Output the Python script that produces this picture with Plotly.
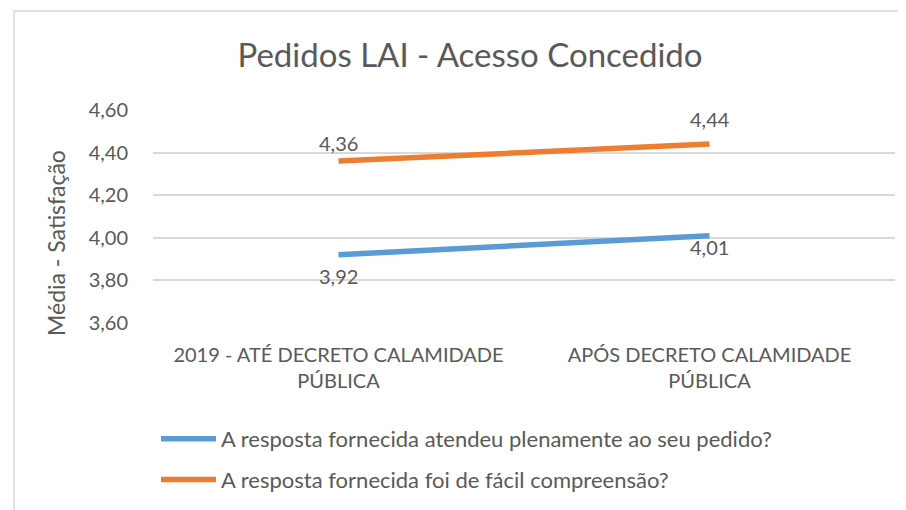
import plotly.graph_objects as go

categories = ["2019 - ATÉ DECRETO CALAMIDADE<br>PÚBLICA", "APÓS DECRETO CALAMIDADE<br>PÚBLICA"]
series_names = ["A resposta fornecida atendeu plenamente ao seu pedido?",
                "A resposta fornecida foi de fácil compreensão?"]
blue_values = [3.92, 4.01]
orange_values = [4.36, 4.44]
y_ticks = [3.6, 3.8, 4.0, 4.2, 4.4, 4.6]
y_title = "Média - Satisfação"
chart_title = "Pedidos LAI - Acesso Concedido"

FONT = "Lato"
TXT = "#595959"
BLUE = "#5B9BD5"
ORANGE = "#ED7D31"

# page offset (browser body margin) compensation
OFF = 8
W, H = 906, 510
# plot area in screen pixels
SX0, SX1, SY0, SY1 = 153, 895, 110, 323
L = SX0 - OFF
R = W - (SX1 - OFF)
T = SY0 - OFF
B = H - (SY1 - OFF)
pw, ph = W - L - R, H - T - B


def px_x(p):
    return (p - OFF - L) / pw


def px_y(p):
    return (H - B - (p - OFF)) / ph


def fmt(v):
    return f"{v:.2f}".replace(".", ",")


fig = go.Figure()
fig.add_trace(go.Scatter(
    x=categories, y=blue_values, mode="lines", name=series_names[0],
    line=dict(color=BLUE, width=5.5), legendgroup="a",
))
fig.add_trace(go.Scatter(
    x=categories, y=orange_values, mode="lines", name=series_names[1],
    line=dict(color=ORANGE, width=5.5), legendgroup="b",
))

annotations = []
blue_shift = [-21, -11]
orange_shift = [18, 25]
for cat, v, s in zip(categories, blue_values, blue_shift):
    annotations.append(dict(x=cat, y=v, text=fmt(v), showarrow=False, yshift=s,
                            xanchor="center", yanchor="middle",
                            font=dict(size=20, color=TXT, family=FONT)))
for cat, v, s in zip(categories, orange_values, orange_shift):
    annotations.append(dict(x=cat, y=v, text=fmt(v), showarrow=False, yshift=s,
                            xanchor="center", yanchor="middle",
                            font=dict(size=20, color=TXT, family=FONT)))
# y-axis title (placed like the original, lower than plot centre)
annotations.append(dict(text=y_title, xref="paper", yref="paper", x=px_x(56), y=px_y(243),
                        xanchor="center", yanchor="middle", textangle=-90, showarrow=False,
                        font=dict(size=23, color=TXT, family=FONT)))

fig.update_layout(
    width=W, height=H,
    margin=dict(l=L, r=R, t=T, b=B, autoexpand=False),
    paper_bgcolor="white", plot_bgcolor="white",
    separators=",.",
    font=dict(family=FONT, color=TXT, size=20),
    title=dict(text=chart_title, x=(470 - OFF) / W, xanchor="center",
               y=1 - (55 - OFF) / H, yanchor="middle", xref="container", yref="container",
               font=dict(size=33, color=TXT, family=FONT)),
    xaxis=dict(range=[-0.5, 1.5], showgrid=False, showline=False, zeroline=False,
               ticks="", tickangle=0, ticklabelstandoff=18,
               tickfont=dict(size=20, color=TXT)),
    yaxis=dict(range=[3.6, 4.6], tickvals=y_ticks, tickformat=".2f",
               showgrid=True, gridcolor="#D9D9D9", gridwidth=1.5, zeroline=False,
               showline=False, ticks="", ticklabelstandoff=24,
               tickfont=dict(size=20, color=TXT)),
    showlegend=True,
    legend=dict(orientation="v", x=px_x(156), xanchor="left", y=px_y(418), yanchor="top",
                font=dict(size=22, color=TXT), traceorder="grouped", tracegroupgap=9,
                itemwidth=55, bgcolor="rgba(0,0,0,0)"),
    annotations=annotations,
    shapes=[dict(type="rect", xref="paper", yref="paper",
                 x0=px_x(14), x1=px_x(930), y0=px_y(530), y1=px_y(11),
                 line=dict(color="#D9D9D9", width=1.5), fillcolor="rgba(0,0,0,0)", layer="below")],
)

fig.write_html("out.html")
